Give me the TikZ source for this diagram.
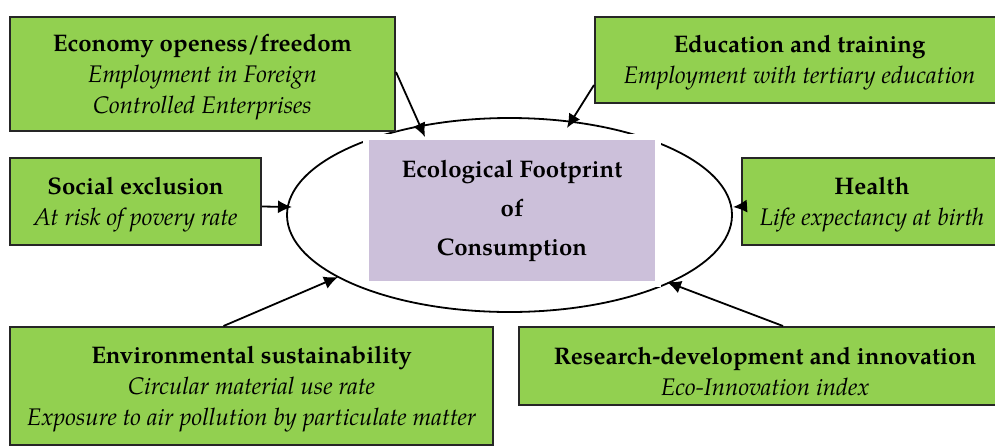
\documentclass[tikz,border=0pt]{standalone}
\usepackage{fontspec}
\setmainfont{TeX Gyre Pagella}
\usetikzlibrary{arrows.meta,shapes.geometric}
\definecolor{boxgreen}{HTML}{92D050}
\definecolor{lav}{HTML}{CCC0DA}
\begin{document}
\begin{tikzpicture}[x=0.5pt,y=-0.5pt,
  box/.style={draw=black!85, line width=1pt, fill=boxgreen, inner sep=0pt},
  boxtext/.style={align=center, font=\fontsize{12}{15.5}\selectfont, inner sep=0pt},
  conn/.style={-{Latex[length=7pt,width=6.5pt]}, line width=0.9pt},
]
\useasboundingbox (0,0) rectangle (995,446);
% central ellipse and label
\node[draw, ellipse, line width=0.9pt, minimum width=222.5pt, minimum height=97pt, inner sep=0pt] (ell) at (509.5,215) {};
\node[fill=lav, draw=white, line width=3pt, minimum width=146pt, minimum height=73.5pt, inner sep=0pt,
  align=center, font=\bfseries\fontsize{12}{19.5}\selectfont] (efc) at (512,210.5)
  {Ecological Footprint\\of\\Consumption};
% boxes
\node[box, minimum width=192.5pt, minimum height=57pt] (eco) at (202.5,74) {};
\node[boxtext] (ecot) at (202.5,77)
  {\textbf{Economy openess/freedom}\\\textit{Employment in Foreign}\\\textit{Controlled Enterprises}};
\node[box, minimum width=204.5pt, minimum height=43pt] (edu) at (799.5,60) {};
\node[boxtext] (edut) at (799.5,62.5)
  {\textbf{Education and training}\\\textit{Employment with tertiary education}};
\node[box, minimum width=125.5pt, minimum height=43.5pt] (soc) at (135.5,201.5) {};
\node[boxtext] (soct) at (135.5,204.5)
  {\textbf{Social exclusion}\\\textit{At risk of povery rate}};
\node[box, minimum width=130pt, minimum height=43.5pt] (hea) at (872,201.5) {};
\node[boxtext] (heat) at (872,204.5)
  {\textbf{Health}\\\textit{Life expectancy at birth}};
\node[box, minimum width=241.5pt, minimum height=59pt] (env) at (251.5,386) {};
\node[boxtext] (envt) at (251.5,389)
  {\textbf{Environmental sustainability}\\\textit{Circular material use rate}\\\textit{Exposure to air pollution by particulate matter}};
\node[box, minimum width=246pt, minimum height=39pt] (rd) at (765,366) {};
\node[boxtext] (rdt) at (765,371)
  {\textbf{Research-development and innovation}\\\textit{Eco-Innovation index}};
% arrow tips
\coordinate (t1) at (425,137);
\coordinate (t2) at (567,128);
\coordinate (t3) at (292,207);
\coordinate (t4) at (733,207);
\coordinate (t5) at (338,277);
\coordinate (t6) at (667,282);
% connectors
\draw[conn] ([yshift=1pt]eco.east) -- (t1);
\draw[conn] ([yshift=-12.5pt]edu.west) -- (t2);
\draw[conn] ([yshift=-2.5pt]soc.east) -- (t3);
\draw[conn] ([yshift=-2.5pt]hea.west) -- (t4);
\draw[conn] ([xshift=-14pt]env.north) -- (t5);
\draw[conn] ([xshift=9pt]rd.north) -- (t6);
\end{tikzpicture}
\end{document}
